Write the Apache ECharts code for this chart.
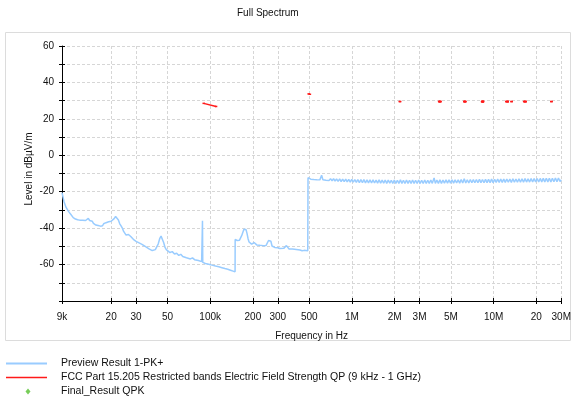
<!DOCTYPE html>
<html>
<head>
<meta charset="utf-8">
<script src="https://cdn.jsdelivr.net/npm/echarts@6/dist/echarts.min.js"></script>
<style>
html,body{margin:0;padding:0;background:#fff;}
#c{width:574px;height:401px;}
</style>
</head>
<body>
<div id="c"></div>
<script>
// ---- data ----
const titleText = 'Full Spectrum';
const xAxisName = 'Frequency in Hz';
const yAxisName = 'Level in dBµV/m';
const seriesNames = ['Preview Result 1-PK+', 'FCC Part 15.205 Restricted bands Electric Field Strength QP (9 kHz - 1 GHz)', 'Final_Result QPK'];

const xTickValues = [9e3, 2e4, 3e4, 5e4, 1e5, 2e5, 3e5, 5e5, 1e6, 2e6, 3e6, 5e6, 1e7, 2e7, 3e7];
const xTickLabels = ['9k', '20', '30', '50', '100k', '200', '300', '500', '1M', '2M', '3M', '5M', '10M', '20', '30M'];
const yTickLabels = [60, 40, 20, 0, -20, -40, -60];

// Preview spectrum below 490 kHz: frequency in kHz, level in dBµV/m
const specLowFreqKHz = [
  9.0, 9.15, 9.3, 9.45, 9.6, 9.8, 10.0, 10.2, 10.4, 10.6, 10.8, 11.0, 11.2, 11.4, 11.6, 11.8, 12.0, 12.3, 12.6, 12.9,
  13.2, 13.5, 13.8, 14.1, 14.4, 14.7, 15.0, 15.3, 15.6, 15.9, 16.2, 16.5, 16.8, 17.1, 17.4, 17.7, 18.0, 18.4, 18.8, 19.2,
  19.6, 20.0, 20.5, 21.0, 21.5, 22.0, 22.5, 23.0, 23.5, 24.0, 24.5, 25.0, 25.5, 26.0, 26.5, 27.0, 27.5, 28.0, 29.0, 30.0,
  31.0, 32.0, 33.0, 34.0, 35.0, 36.0, 37.0, 38.0, 39.0, 40.0, 41.0, 42.0, 43.0, 44.0, 45.0, 46.0, 47.0, 48.0, 49.0, 50.0,
  52.0, 54.0, 56.0, 58.0, 60.0, 62.0, 64.0, 66.0, 68.0, 70.0, 72.5, 75.0, 77.5, 80.0, 82.5, 85.0, 87.0, 87.8, 88.2, 88.6,
  90.0, 92.5, 95.0, 97.5, 100, 103, 106, 109, 112, 115, 118, 121, 124, 127, 130, 133, 136, 139, 142, 145,
  148, 149.8, 150, 152, 155, 158, 161, 164, 167, 170, 173, 176, 179, 182, 185, 188, 192, 196, 200, 204,
  208, 213, 218, 224, 230, 236, 242, 248, 253, 258, 263, 268, 273, 278, 285, 292, 300, 310, 320, 330,
  338, 345, 352, 360, 370, 380, 392, 405, 418, 430, 445, 460, 475, 488, 489.6
];
const specLowLevel = [
  -20.5, -23, -25.5, -27, -28.5, -29.5, -30.8, -31.2, -32.5, -33, -34.2, -34, -35, -34.6, -35.4, -35, -35.6, -35.1, -35.7, -35.2,
  -35.8, -35.0, -34.6, -35.8, -36.6, -36.2, -37.4, -37, -38.3, -37.5, -38.6, -37.6, -38.9, -37.9, -38.7, -37.6, -38.2, -37, -37.6, -36.5,
  -37.2, -36.2, -35.8, -34.8, -33.6, -34.6, -35.5, -37.6, -38.8, -40, -41.8, -42.8, -43.8, -44.3, -43.5, -42.6, -44.6, -45.6, -46.5, -47.3,
  -47.8, -48.6, -48.9, -49.6, -50.2, -50.8, -51.4, -51.9, -52.3, -52.4, -51.8, -50.8, -48.6, -45.8, -44.4, -45.4, -48, -50.6, -51.8, -52.6,
  -53.4, -52.9, -54.2, -53.8, -55, -54.4, -55.6, -55.1, -56.3, -55.8, -56.9, -56.3, -57.3, -56.8, -57.8, -57.3, -58.4, -58.6, -36, -58.8,
  -58.4, -59.4, -58.8, -59.8, -59.3, -60.3, -59.8, -60.8, -60.2, -61.2, -60.6, -61.7, -61.1, -62.2, -61.6, -62.6, -62.1, -63.1, -62.5, -63.6,
  -63, -64, -46.2, -46.5, -46.8, -46.4, -46.6, -45.8, -44, -42.2, -40.6, -39.8, -40.8, -43, -45.8, -47.6, -48.4, -48.8, -48.5, -47.9,
  -48.6, -49.2, -49.0, -49.4, -49.2, -49.6, -49.4, -49.5, -48.6, -46.8, -46.0, -47.2, -49.8, -50.8, -50.6, -51.0, -50.8, -51.2, -51.0, -51.1,
  -50.5, -49.6, -50.6, -51.4, -51.6, -51.5, -51.9, -51.7, -52.1, -52.0, -52.4, -52.2, -52.6, -52.4, -52.8
];

// Preview spectrum from 490 kHz to 30 MHz (noise band): frequency in kHz, level in dBµV/m
const specHighFreqKHz = [
  490,
  500, 512, 525, 538, 552, 565, 579, 594, 611, 624,
  640, 656, 672, 689, 706, 724, 742, 760, 779, 799,
  819, 839, 860, 882, 904, 926, 949, 973, 997, 1022,
  1048, 1074, 1101, 1128, 1157, 1186, 1215, 1246, 1277, 1309,
  1341, 1375, 1409, 1444, 1480, 1517, 1555, 1594, 1634, 1675,
  1717, 1760, 1804, 1849, 1895, 1942, 1991, 2041, 2092, 2144,
  2198, 2253, 2309, 2367, 2426, 2487, 2549, 2613, 2678, 2745,
  2813, 2884, 2956, 3030, 3105, 3183, 3263, 3344, 3428, 3513,
  3601, 3691, 3800, 3878, 3975, 4074, 4176, 4281, 4388, 4497,
  4610, 4725, 4843, 4964, 5088, 5216, 5346, 5480, 5617, 5757,
  5901, 6049, 6200, 6355, 6514, 6677, 6844, 7015, 7190, 7370,
  7554, 7743, 7937, 8135, 8339, 8547, 8761, 8980, 9204, 9434,
  9670, 9912, 10160, 10414, 10674, 10941, 11215, 11495, 11783, 12077,
  12379, 12689, 13006, 13331, 13665, 14006, 14356, 14715, 15083, 15460,
  15847, 16243, 16649, 17065, 17492, 17929, 18378, 18837, 19308, 19791,
  20285, 20792, 21312, 21845, 22391, 22951, 23525, 24113, 24716, 25334,
  25967, 26616, 27282, 27964, 28663, 29379, 30000
];
const specHighLevel = [
  -12.3,
  -12.2, -13.1, -12.3, -13.3, -12.4, -13.4, -12.5, -13.5, -11.0, -13.4,
  -12.6, -13.7, -12.7, -13.9, -12.8, -14.0, -12.9, -14.1, -13.0, -14.3,
  -13.0, -14.4, -13.1, -14.5, -13.1, -14.6, -13.2, -14.7, -13.2, -14.8,
  -13.3, -14.9, -13.3, -15.0, -13.4, -15.0, -13.4, -15.1, -13.5, -15.1,
  -13.5, -15.2, -13.5, -15.2, -13.6, -15.3, -13.5, -15.3, -13.6, -15.3,
  -13.6, -15.4, -13.6, -15.3, -13.7, -15.4, -13.6, -15.4, -13.7, -15.4,
  -13.5, -15.4, -13.7, -15.5, -13.6, -15.4, -13.7, -15.5, -13.6, -15.4,
  -13.7, -15.5, -13.6, -15.4, -13.7, -15.5, -13.6, -15.4, -13.7, -15.4,
  -13.6, -15.4, -12.4, -15.4, -13.6, -15.4, -13.5, -15.4, -13.6, -15.3,
  -13.5, -15.3, -13.5, -15.3, -13.4, -15.3, -13.5, -15.2, -13.4, -15.3,
  -13.3, -15.2, -12.9, -15.2, -13.4, -15.2, -13.3, -15.1, -13.4, -15.1,
  -13.3, -15.1, -13.2, -15.0, -13.3, -15.1, -13.2, -15.0, -13.2, -15.0,
  -13.1, -15.0, -13.2, -14.9, -13.1, -14.9, -13.0, -14.9, -13.1, -14.9,
  -13.0, -14.8, -13.0, -14.9, -12.9, -14.8, -13.0, -14.8, -12.9, -14.8,
  -12.9, -14.8, -12.8, -14.7, -12.9, -14.7, -12.8, -14.7, -12.8, -14.7,
  -12.7, -14.7, -12.7, -14.6, -12.7, -14.6, -12.6, -14.6, -12.6, -14.6,
  -12.6, -14.5, -12.5, -14.5, -12.5, -14.4, -13.4
];

// FCC 15.205 restricted band limit segments (Hz, dBµV/m)
const limitStartFreq = [90e3, 495e3, 2.1735e6, 4.125e6, 4.17725e6, 4.20725e6, 6.215e6, 6.26775e6, 6.31175e6, 8.291e6, 8.362e6, 8.37625e6, 8.41425e6, 12.29e6, 12.51975e6, 12.57675e6, 13.36e6, 16.42e6, 16.69475e6, 16.80425e6, 25.5e6];
const limitEndFreq   = [110e3, 505e3, 2.1905e6, 4.128e6, 4.17775e6, 4.20775e6, 6.218e6, 6.26825e6, 6.31225e6, 8.294e6, 8.366e6, 8.38675e6, 8.41475e6, 12.293e6, 12.52025e6, 12.57725e6, 13.41e6, 16.423e6, 16.69525e6, 16.80475e6, 25.67e6];
const limitStartLevel = [28.5, 33.7, 29.5, 29.5, 29.5, 29.5, 29.5, 29.5, 29.5, 29.5, 29.5, 29.5, 29.5, 29.5, 29.5, 29.5, 29.5, 29.5, 29.5, 29.5, 29.5];
const limitEndLevel   = [26.8, 33.5, 29.5, 29.5, 29.5, 29.5, 29.5, 29.5, 29.5, 29.5, 29.5, 29.5, 29.5, 29.5, 29.5, 29.5, 29.5, 29.5, 29.5, 29.5, 29.5];

// Final QPK results (none in this plot)
const finalFreq = [];
const finalLevel = [];

// ---- build ----
const specData = specLowFreqKHz.map((f, i) => [f * 1000, specLowLevel[i]])
  .concat(specHighFreqKHz.map((f, i) => [f * 1000, specHighLevel[i]]));
const limitData = [];
limitStartFreq.forEach((f, i) => {
  limitData.push([f, limitStartLevel[i]]);
  limitData.push([limitEndFreq[i], limitEndLevel[i]]);
  limitData.push([limitEndFreq[i], '-']);
});
const finalData = finalFreq.map((f, i) => [f, finalLevel[i]]);

const FONT = 'Liberation Sans, Arial, sans-serif';
const BLUE = '#99ccff', RED = '#ff1a1a', GREEN = '#55c030';
const gridColor = '#d6d6d6';

function xLabel(v) {
  const i = xTickValues.findIndex(t => Math.abs(t - v) / t < 1e-6);
  return i >= 0 ? xTickLabels[i] : '';
}

const chart = echarts.init(document.getElementById('c'), null, {renderer: 'canvas'});
chart.setOption({
  animation: false,
  backgroundColor: '#fff',
  textStyle: {fontFamily: FONT},
  title: {
    text: titleText, left: 232, top: 3,
    textStyle: {fontSize: 10, fontWeight: 'normal', color: '#111', fontFamily: FONT}
  },
  graphic: [{
    type: 'rect', z: -10, silent: true,
    shape: {x: 5.5, y: 32.5, width: 565, height: 308},
    style: {fill: '#fff', stroke: '#dcdcdc', lineWidth: 1}
  }],
  grid: {left: 62, right: 11, top: 46, bottom: 100},
  xAxis: [{
    type: 'log', logBase: 10, min: 9e3, max: 3e7,
    name: xAxisName, nameLocation: 'middle', nameGap: 30,
    nameTextStyle: {fontSize: 10, color: '#111', fontFamily: FONT},
    axisLine: {show: true, onZero: false, lineStyle: {color: '#000', width: 1}},
    axisTick: {show: true, length: 3, inside: false, customValues: xTickValues, lineStyle: {color: '#000'}},
    minorTick: {show: false},
    axisLabel: {customValues: xTickValues, formatter: xLabel, fontSize: 10, color: '#111', margin: 11, fontFamily: FONT, showMinLabel: true, showMaxLabel: true, hideOverlap: false},
    splitLine: {show: true, lineStyle: {color: gridColor, type: [3, 2], width: 1}}
  }, {
    type: 'log', logBase: 10, min: 9e3, max: 3e7, position: 'bottom',
    axisLine: {show: false, onZero: false},
    axisTick: {show: true, length: 3, inside: true, customValues: xTickValues, lineStyle: {color: '#000'}},
    axisLabel: {show: false},
    splitLine: {show: false}
  }],
  yAxis: [{
    type: 'value', min: -80, max: 60, interval: 10, position: 'left',
    name: yAxisName, nameLocation: 'middle', nameGap: 28, nameRotate: 90, nameMoveOverlap: false,
    nameTextStyle: {fontSize: 10, color: '#111', fontFamily: FONT, padding: [0, 0, 0, 9]},
    axisLine: {show: true, onZero: false, lineStyle: {color: '#000', width: 1}},
    axisTick: {show: true, length: 3, inside: false, lineStyle: {color: '#000'}},
    axisLabel: {
      fontSize: 10, color: '#111', margin: 8, fontFamily: FONT,
      formatter: v => (yTickLabels.indexOf(v) >= 0 ? String(v) : '')
    },
    splitLine: {show: true, lineStyle: {color: gridColor, type: [3, 2], width: 1}}
  }, {
    type: 'value', min: -80, max: 60, interval: 10, position: 'left',
    axisLine: {show: false, onZero: false},
    axisTick: {show: true, length: 3, inside: true, lineStyle: {color: '#000'}},
    axisLabel: {show: false},
    splitLine: {show: false}
  }],
  legend: {
    orient: 'vertical', left: 6, top: 358, padding: 0, itemGap: 3,
    itemWidth: 50, itemHeight: 6,
    textStyle: {fontSize: 10.5, color: '#111', fontFamily: FONT},
    data: [
      {name: seriesNames[0], icon: 'path://M0,0 M50,6 M0,2 H41 V4 H0 Z'},
      {name: seriesNames[1], icon: 'path://M0,0 M50,6 M0,2.25 H41 V3.75 H0 Z'},
      {name: seriesNames[2], icon: 'path://M0,0 M50,6 M22,0 L24.5,3 L22,6 L19.5,3 Z'}
    ]
  },
  series: [{
    name: seriesNames[0], type: 'line', xAxisIndex: 0, yAxisIndex: 0,
    data: specData, symbol: 'none', showSymbol: false,
    lineStyle: {color: BLUE, width: 1.5}, itemStyle: {color: BLUE}, z: 2
  }, {
    name: seriesNames[1], type: 'line', xAxisIndex: 0, yAxisIndex: 0,
    data: limitData, symbol: 'rect', symbolSize: [2.5, 1.5], showSymbol: true, showAllSymbol: true, connectNulls: false,
    lineStyle: {color: RED, width: 1.5}, itemStyle: {color: RED}, z: 3
  }, {
    name: seriesNames[2], type: 'scatter', xAxisIndex: 0, yAxisIndex: 0,
    data: finalData, symbol: 'diamond', symbolSize: 6,
    itemStyle: {color: GREEN}, z: 4
  }]
});
</script>
</body>
</html>
